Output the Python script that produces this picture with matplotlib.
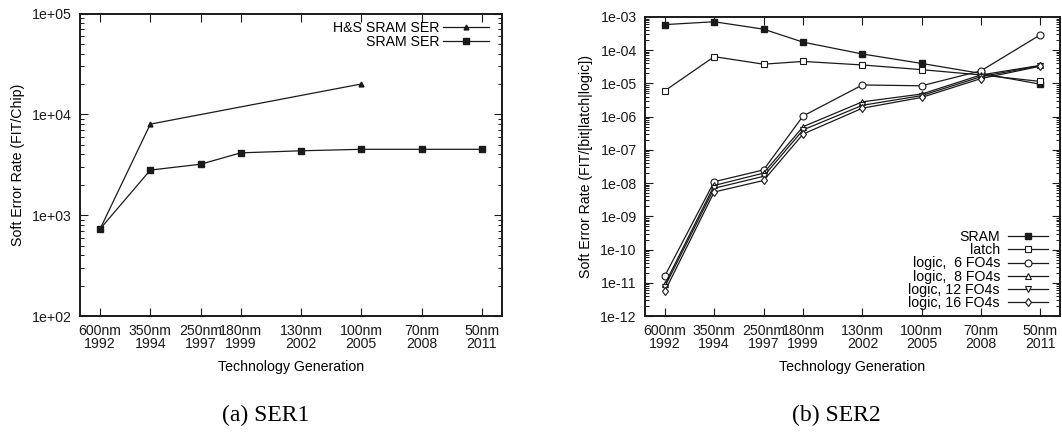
import numpy as np
import matplotlib
matplotlib.use("Agg")
import matplotlib.pyplot as plt
import matplotlib.ticker as ticker

plt.rcParams["font.family"] = ["Liberation Sans", "DejaVu Sans"]

# x positions (year of each technology node) and tick labels
X_POS = [1992, 1994.5, 1997, 1999, 2002, 2005, 2008, 2011]
TECH_LABELS = ["600nm\n1992", "350nm\n1994", "250nm\n1997", "180nm\n1999",
               "130nm\n2002", "100nm\n2005", "70nm\n2008", "50nm\n2011"]

# (a) SER1 - FIT per chip
HS_IDX = [0, 1, 5]
HS_SRAM_SER = [730, 8000, 20000]
SRAM_SER = [730, 2800, 3200, 4150, 4350, 4500, 4500, 4500]

# (b) SER2 - FIT per bit / latch / logic
SRAM = [5.9e-4, 7.2e-4, 4.3e-4, 1.75e-4, 7.7e-5, 4.0e-5, 2.0e-5, 9.5e-6]
LATCH = [6.0e-6, 6.4e-5, 3.8e-5, 4.6e-5, 3.6e-5, 2.6e-5, 1.8e-5, 1.15e-5]
LOGIC_6 = [1.6e-11, 1.1e-8, 2.5e-8, 1.05e-6, 9.0e-6, 8.5e-6, 2.4e-5, 2.9e-4]
LOGIC_8 = [9.0e-12, 8.5e-9, 2.0e-8, 5.0e-7, 2.8e-6, 4.8e-6, 1.8e-5, 3.5e-5]
LOGIC_12 = [7.5e-12, 7.0e-9, 1.6e-8, 4.0e-7, 2.2e-6, 4.3e-6, 1.6e-5, 3.4e-5]
LOGIC_16 = [5.5e-12, 5.4e-9, 1.2e-8, 3.0e-7, 1.8e-6, 3.8e-6, 1.4e-5, 3.3e-5]

LINE = "#1a1a1a"
FS = 10.2
W, H = 1062, 432


def rect(x0, y0, x1, y1):
    return [x0 / W, 1 - y1 / H, (x1 - x0) / W, (y1 - y0) / H]


def style_axes(ax, ymin, ymax):
    ax.set_yscale("log")
    ax.set_ylim(ymin, ymax)
    ax.set_xlim(1991, 2012)
    ax.set_xticks(X_POS)
    ax.set_xticklabels(TECH_LABELS, fontsize=FS, linespacing=0.92)
    ax.yaxis.set_major_locator(ticker.LogLocator(base=10, numticks=100))
    ax.yaxis.set_minor_locator(ticker.LogLocator(base=10, subs=range(2, 10), numticks=100))
    ax.yaxis.set_minor_formatter(ticker.NullFormatter())
    ax.yaxis.set_major_formatter(ticker.FuncFormatter(lambda v, p: f"{v:.0e}"))
    ax.tick_params(which="both", direction="in", top=True, right=True, colors=LINE)
    ax.tick_params(which="major", length=6, width=0.8, labelsize=FS, pad=6)
    ax.tick_params(which="minor", length=3, width=0.7)
    for s in ax.spines.values():
        s.set_linewidth(1.4)
        s.set_color(LINE)
    ax.set_xlabel("Technology Generation", fontsize=FS, labelpad=6)


fig = plt.figure(figsize=(W / 100, H / 100), dpi=100)

# ── (a) SER1 ────────────────────────────────────────────────────────────────
ax1 = fig.add_axes(rect(80, 13.5, 502, 316))
ax1.plot([X_POS[i] for i in HS_IDX], HS_SRAM_SER, color=LINE, lw=0.9,
         marker="^", ms=3.5, label="H&S SRAM SER")
ax1.plot(X_POS, SRAM_SER, color=LINE, lw=0.9, marker="s", ms=5,
         label="SRAM SER")
style_axes(ax1, 1e2, 1e5)
ax1.set_ylabel("Soft Error Rate (FIT/Chip)", fontsize=FS, labelpad=5)
ax1.legend(loc="upper right", frameon=False, markerfirst=False, fontsize=FS,
           handlelength=3.2, labelspacing=0.0, borderaxespad=0.1,
           handletextpad=0.3, bbox_to_anchor=(0.985, 1.0))

# ── (b) SER2 ────────────────────────────────────────────────────────────────
ax2 = fig.add_axes(rect(645, 17, 1060, 316))
ax2.plot(X_POS, SRAM, color=LINE, lw=0.9, marker="s", ms=4.5, label="SRAM")
ax2.plot(X_POS, LATCH, color=LINE, lw=0.9, marker="s", ms=4.5, mfc="white",
         mew=0.8, label="latch")
ax2.plot(X_POS, LOGIC_6, color=LINE, lw=0.9, marker="o", ms=5, mfc="white",
         mew=0.8, label="logic,  6 FO4s")
ax2.plot(X_POS, LOGIC_8, color=LINE, lw=0.9, marker="^", ms=4.5, mfc="white",
         mew=0.8, label="logic,  8 FO4s")
ax2.plot(X_POS, LOGIC_12, color=LINE, lw=0.9, marker="v", ms=4.5, mfc="white",
         mew=0.8, label="logic, 12 FO4s")
ax2.plot(X_POS, LOGIC_16, color=LINE, lw=0.9, marker="d", ms=4.5, mfc="white",
         mew=0.8, label="logic, 16 FO4s")
style_axes(ax2, 1e-12, 1e-3)
ax2.set_ylabel("Soft Error Rate (FIT/[bit|latch|logic])", fontsize=FS, labelpad=5)
ax2.legend(loc="lower right", frameon=False, markerfirst=False, fontsize=FS,
           handlelength=2.8, labelspacing=-0.05, borderaxespad=0.0,
           handletextpad=0.6, bbox_to_anchor=(0.985, 0.0))

# captions
fig.text(265.7 / W, 1 - 415 / H, "(a) SER1", ha="center", va="center",
         fontsize=17, family="Liberation Serif")
fig.text(836 / W, 1 - 415 / H, "(b) SER2", ha="center", va="center",
         fontsize=17, family="Liberation Serif")

fig.savefig("out.png", dpi=100)
